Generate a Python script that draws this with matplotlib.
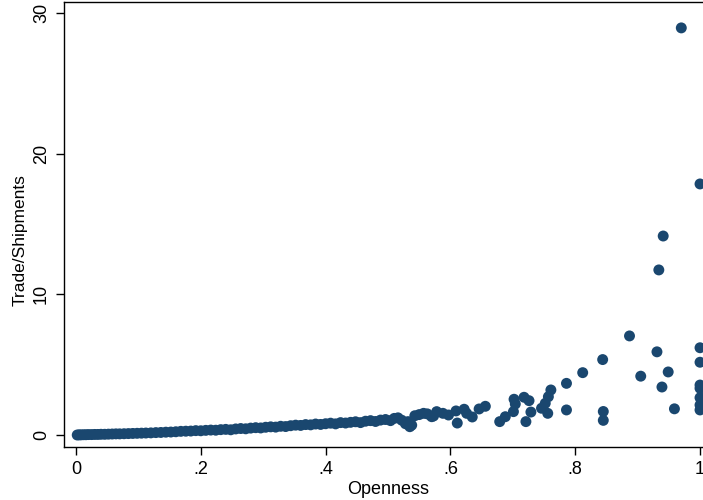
import matplotlib
matplotlib.use("Agg")
import matplotlib.pyplot as plt

plt.rcParams['font.family'] = ['Liberation Sans', 'DejaVu Sans']

# Dense band of points (openness, trade/shipments)
band_x = [0.002, 0.005, 0.008, 0.012, 0.016, 0.020, 0.025, 0.030, 0.035, 0.040,
          0.046, 0.052, 0.058, 0.064, 0.070, 0.077, 0.084, 0.091, 0.098, 0.105,
          0.112, 0.120, 0.128, 0.136, 0.144, 0.152, 0.160, 0.168, 0.176, 0.184,
          0.192, 0.200, 0.208, 0.216, 0.224, 0.232, 0.240, 0.248, 0.256, 0.264,
          0.272, 0.280, 0.288, 0.296, 0.304, 0.312, 0.320, 0.328, 0.336, 0.344,
          0.352, 0.360, 0.368, 0.376, 0.384, 0.392, 0.400, 0.408, 0.416, 0.424,
          0.432, 0.440, 0.448, 0.456, 0.464, 0.472, 0.480, 0.488, 0.496, 0.504,
          0.510, 0.516]
band_y = [0.00, 0.01, 0.01, 0.02, 0.02, 0.03, 0.03, 0.04, 0.04, 0.05,
          0.05, 0.06, 0.07, 0.08, 0.08, 0.09, 0.10, 0.11, 0.12, 0.13,
          0.14, 0.15, 0.17, 0.18, 0.20, 0.21, 0.23, 0.26, 0.27, 0.28,
          0.31, 0.30, 0.33, 0.35, 0.34, 0.38, 0.40, 0.37, 0.43, 0.46,
          0.44, 0.49, 0.52, 0.50, 0.55, 0.58, 0.56, 0.62, 0.60, 0.66,
          0.70, 0.68, 0.74, 0.72, 0.78, 0.75, 0.80, 0.84, 0.79, 0.88,
          0.85, 0.90, 0.94, 0.88, 0.98, 1.02, 0.96, 1.06, 1.10, 1.02,
          1.18, 1.22]

# Sparser points at higher openness
upper_x = [0.522, 0.528, 0.532, 0.535, 0.538, 0.543, 0.550, 0.557, 0.563, 0.570,
           0.573, 0.578, 0.588, 0.597, 0.609, 0.611, 0.622, 0.626, 0.635, 0.646,
           0.656, 0.679, 0.688, 0.701, 0.702, 0.704, 0.718, 0.726, 0.721, 0.729,
           0.746, 0.752, 0.757, 0.761, 0.756, 0.786, 0.786, 0.812, 0.844, 0.845,
           0.845, 0.887, 0.905, 0.931, 0.949, 0.939, 0.959, 0.934, 0.941, 0.970,
           1.000, 1.000, 1.000, 1.000, 1.000, 1.000, 1.000, 1.000]
upper_y = [1.05, 0.80, 0.95, 0.59, 0.70, 1.37, 1.45, 1.54, 1.50, 1.30,
           1.35, 1.66, 1.54, 1.42, 1.71, 0.85, 1.83, 1.54, 1.28, 1.85,
           2.04, 0.95, 1.30, 1.66, 2.54, 2.20, 2.68, 2.44, 0.95, 1.63,
           1.90, 2.25, 2.72, 3.20, 1.54, 3.67, 1.78, 4.43, 5.36, 1.67,
           1.04, 7.04, 4.18, 5.91, 4.48, 3.41, 1.86, 11.73, 14.14, 28.93,
           17.84, 6.20, 5.17, 3.55, 3.32, 2.65, 2.13, 1.78]

x_ticks = [0, 0.2, 0.4, 0.6, 0.8, 1.0]
x_tick_labels = ["0", ".2", ".4", ".6", ".8", "1"]
y_ticks = [0, 10, 20, 30]
y_tick_labels = ["0", "10", "20", "30"]

fig = plt.figure(figsize=(7.03, 5.0), dpi=100)
ax = fig.add_axes([64/703, 53/500, 648/703, 445/500])

color = "#1a476f"
ax.scatter(band_x + upper_x, band_y + upper_y, s=62, color=color,
           edgecolors='none', clip_on=False, zorder=3)

ax.set_xlim(-0.0192, 1.0192)
ax.set_ylim(-0.853, 30.77)
ax.set_xticks(x_ticks)
ax.set_xticklabels(x_tick_labels)
ax.set_yticks(y_ticks)
ax.set_yticklabels(y_tick_labels, rotation=90, va='center')

for sp in ax.spines.values():
    sp.set_linewidth(1.0)
    sp.set_color('black')

ax.tick_params(axis='both', direction='out', length=6, width=1.0,
               labelsize=13, colors='black', pad=4)
ax.set_xlabel("Openness", fontsize=13, labelpad=2)
ax.set_ylabel("Trade/Shipments", fontsize=12.5)
ax.yaxis.set_label_coords(-0.056, 0.465)

fig.savefig("out.png", dpi=100)
